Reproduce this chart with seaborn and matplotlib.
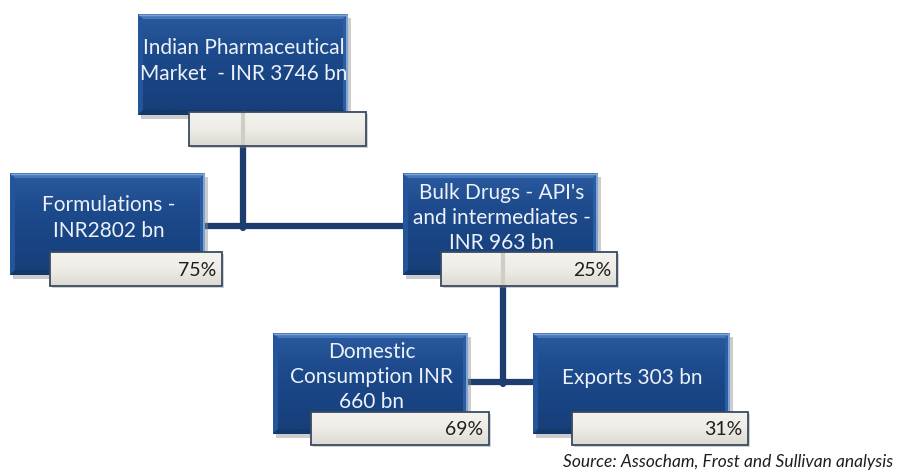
import numpy as np
import matplotlib
matplotlib.use("Agg")
import matplotlib.pyplot as plt
import seaborn as sns
from matplotlib.patches import Rectangle, Polygon
from matplotlib.colors import LinearSegmentedColormap

# ---- data ----
node_labels = [
    "Indian Pharmaceutical\nMarket  - INR 3746 bn",
    "Formulations -\nINR2802 bn",
    "Bulk Drugs - API's\nand intermediates -\nINR 963 bn",
    "Domestic\nConsumption INR\n660 bn",
    "Exports 303 bn",
]
node_shares = ["", "75%", "25%", "69%", "31%"]
parents = [None, 0, 0, 2, 2]
source_note = "Source: Assocham, Frost and Sullivan analysis"

# ---- layout (pixels, y down) ----
boxes = [  # x0, y0, x1, y1
    (138, 14, 348, 115),
    (10, 173, 205, 275),
    (403, 173, 598, 275),
    (273, 333, 468, 434),
    (533, 333, 730, 434),
]
labels_box = [
    (189, 112, 366, 146),
    (50, 252, 222, 286),
    (441, 252, 617, 286),
    (311, 412, 489, 445),
    (572, 412, 748, 445),
]
text_cy = [61, 218, 218, 377, 378]

sns.set_theme(style="white")
plt.rcParams['font.family'] = ['Lato', 'DejaVu Sans']

fig = plt.figure(figsize=(9.04, 4.70), dpi=100)
ax = fig.add_axes([0, 0, 1, 1])
ax.set_xlim(0, 904)
ax.set_ylim(470, 0)
ax.axis("off")

LINE = "#1C3D6E"

# connectors
conn_x = [243, 503]
conn_top = [146, 286]
conn_y = [226, 382]
groups = {0: [1, 2], 2: [3, 4]}
for gi, (p, kids) in enumerate(groups.items()):
    xs = [boxes[kids[0]][2], boxes[kids[1]][0]]
    sns.lineplot(x=[conn_x[gi], conn_x[gi]], y=[conn_top[gi], conn_y[gi] + 2], ax=ax,
                 color=LINE, linewidth=4.5, sort=False, estimator=None, zorder=1)
    sns.lineplot(x=xs, y=[conn_y[gi], conn_y[gi]], ax=ax, color=LINE,
                 linewidth=4.5, sort=False, estimator=None, zorder=1)

body_cmap = LinearSegmentedColormap.from_list("b", ["#2A5A9E", "#1D4B8D", "#194483", "#163E79"])
gray_cmap = LinearSegmentedColormap.from_list("g", ["#F4F3EE", "#EEECE6", "#DCDAD2"])


def draw_box(x0, y0, x1, y1):
    ax.add_patch(Rectangle((x0 + 3, y0 + 4), x1 - x0, y1 - y0,
                           facecolor="#8F8F8F", edgecolor="none", alpha=0.45, zorder=2))
    grad = np.linspace(0, 1, 64).reshape(-1, 1)
    ax.imshow(grad, extent=(x0, x1, y1, y0), cmap=body_cmap, aspect="auto", zorder=3.1,
              interpolation="bicubic")
    b = 5
    ax.add_patch(Polygon([(x0, y0), (x1, y0), (x1 - b, y0 + b), (x0 + b, y0 + b)],
                         closed=True, facecolor="#4677BC", edgecolor="none", zorder=3.2))
    ax.add_patch(Polygon([(x0, y0), (x0 + b, y0 + b), (x0 + b, y1 - b), (x0, y1)],
                         closed=True, facecolor="#24549A", edgecolor="none", zorder=3.2))
    ax.add_patch(Polygon([(x1, y0), (x1, y1), (x1 - b, y1 - b), (x1 - b, y0 + b)],
                         closed=True, facecolor="#2C5DA3", edgecolor="none", zorder=3.2))
    ax.add_patch(Polygon([(x0, y1), (x1, y1), (x1 - b, y1 - b), (x0 + b, y1 - b)],
                         closed=True, facecolor="#13386B", edgecolor="none", zorder=3.2))
    ax.plot([x1 - 1, x1 - 1], [y0 + 1, y1 - 1], color="#8FB2E0", linewidth=1.2, zorder=3.3)
    ax.plot([x0 + 1, x1 - 1], [y0 + 1, y0 + 1], color="#7FA3D6", linewidth=1.0, zorder=3.3)


def draw_label(x0, y0, x1, y1):
    ax.add_patch(Rectangle((x0 + 2, y0 + 2), x1 - x0, y1 - y0,
                           facecolor="#8C8C8C", edgecolor="none", alpha=0.4, zorder=4))
    grad = np.linspace(0, 1, 64).reshape(-1, 1)
    ax.imshow(grad, extent=(x0, x1, y1, y0), cmap=gray_cmap, aspect="auto", zorder=4.1,
              interpolation="bicubic")
    ax.add_patch(Rectangle((x0, y0), x1 - x0, y1 - y0, facecolor="none",
                           edgecolor="#3A4A62", linewidth=1.3, zorder=4.3))


for i, (lab, share) in enumerate(zip(node_labels, node_shares)):
    x0, y0, x1, y1 = boxes[i]
    draw_box(x0, y0, x1, y1)
    ax.text((x0 + x1) / 2 + 1, text_cy[i], lab, ha="center", va="center",
            color="#EDF2FA", fontsize=15, linespacing=1.32, zorder=5)
    lx0, ly0, lx1, ly1 = labels_box[i]
    draw_label(lx0, ly0, lx1, ly1)
    if share:
        ax.text(lx1 - 6, (ly0 + ly1) / 2 + 1, share, ha="right", va="center",
                color="#1E1E1E", fontsize=14, zorder=6)

# faint connector traces through the label bars
for gi in range(2):
    lb = labels_box[[0, 2][gi]]
    ax.plot([conn_x[gi], conn_x[gi]], [lb[1] + 1, lb[3] - 1], color="#CFCDC6",
            linewidth=3, zorder=4.2)

ax.text(893, 462, source_note, ha="right", va="center", fontsize=12.5,
        style="italic", color="#1E1E1E", zorder=6)

fig.savefig("out.png", dpi=100)
